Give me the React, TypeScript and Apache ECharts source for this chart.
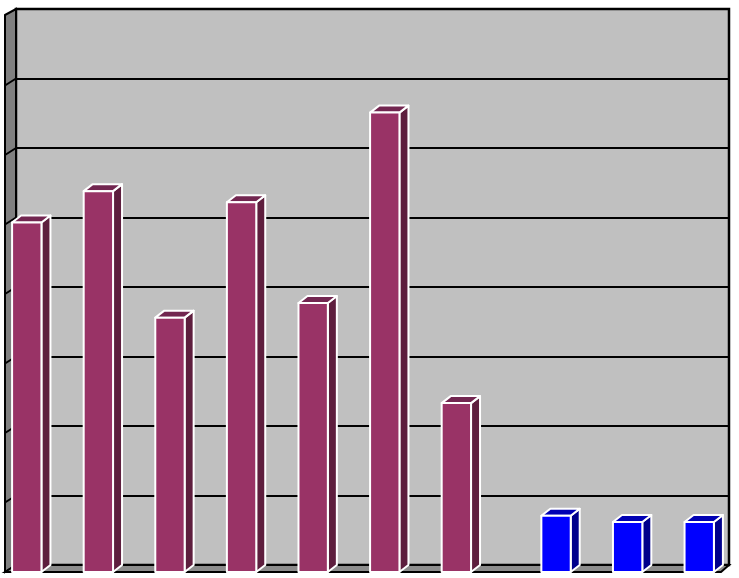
import { useEffect, useRef } from "react";
import * as echarts from "echarts";

// ten categories, no labels shown on the chart
const categories = ["1", "2", "3", "4", "5", "6", "7", "8", "9", "10"];
const maroonValues = [50.3, 54.8, 36.6, 53.2, 38.7, 66.1, 24.3, null, null, null];
const blueValues = [null, null, null, null, null, null, null, 8.1, 7.2, 7.2];
const yTicks = [0, 10, 20, 30, 40, 50, 60, 70, 80];

const W = 739;
const H = 578;
// back wall and front plane of the 3D box
const back = { left: 16, right: 729, top: 9, bottom: 565 };
const front = { left: 5, right: 721, top: 16, bottom: 572 };
const depth = { dx: 9, dy: 7 };

function bar3d(offset: number, faceColor: string, sideColor: string, topColor: string) {
  return (params: any, api: any) => {
    const v = api.value(1);
    if (v == null || isNaN(v)) return null;
    const basePt = api.coord([api.value(0), 0]);
    const topPt = api.coord([api.value(0), v]);
    const cw = api.size([1, 0])[0];
    const bw = cw * 0.41;
    const cx = basePt[0] + offset * cw;
    const x0 = cx - bw / 2;
    const x1 = cx + bw / 2;
    const y0 = topPt[1];
    const y1 = basePt[1];
    const { dx, dy } = depth;
    const stroke = { stroke: "#ffffff", lineWidth: 2, lineJoin: "round" };
    return {
      type: "group",
      children: [
        {
          type: "polygon",
          shape: { points: [[x1, y0], [x1 + dx, y0 - dy], [x1 + dx, y1 - dy], [x1, y1]] },
          style: { fill: sideColor, ...stroke },
        },
        {
          type: "polygon",
          shape: { points: [[x0, y0], [x0 + dx, y0 - dy], [x1 + dx, y0 - dy], [x1, y0]] },
          style: { fill: topColor, ...stroke },
        },
        {
          type: "rect",
          shape: { x: x0, y: y0, width: bw, height: y1 - y0 },
          style: { fill: faceColor, ...stroke },
        },
      ],
    };
  };
}

export default function App(): JSX.Element {
  const chartRef = useRef(null);
  useEffect(() => {
    const chartDom = chartRef.current;
    const myChart = echarts.init(chartDom, null, { renderer: "svg" });

    const step = (back.bottom - back.top) / (yTicks.length - 1);
    const sideTicks = yTicks.slice(1, -1).map((_, i) => {
      const y = back.bottom - (i + 1) * step;
      return {
        type: "line",
        z: 1,
        shape: { x1: back.left, y1: y, x2: front.left, y2: y + (front.bottom - back.bottom) },
        style: { stroke: "#000", lineWidth: 2 },
      };
    });

    const option = {
      animation: false,
      grid: [
        {
          left: back.left,
          top: back.top,
          width: back.right - back.left,
          height: back.bottom - back.top,
          show: true,
          backgroundColor: "#C0C0C0",
          borderColor: "#000",
          borderWidth: 2.5,
        },
        {
          left: front.left,
          top: front.top,
          width: front.right - front.left,
          height: front.bottom - front.top,
        },
      ],
      xAxis: [
        { type: "category", gridIndex: 0, data: categories, show: false },
        { type: "category", gridIndex: 1, data: categories, show: false },
      ],
      yAxis: [
        {
          type: "value",
          gridIndex: 0,
          min: 0,
          max: 80,
          interval: 10,
          axisLine: { show: false },
          axisTick: { show: false },
          axisLabel: { show: false },
          splitLine: { lineStyle: { color: "#000", width: 2.2 } },
        },
        { type: "value", gridIndex: 1, min: 0, max: 80, interval: 10, show: false, splitLine: { show: false } },
      ],
      graphic: [
        {
          type: "polygon",
          z: 1,
          shape: {
            points: [
              [front.left, front.top - 1],
              [back.left, back.top],
              [back.left, back.bottom],
              [front.left, front.bottom],
            ],
          },
          style: { fill: "#808080", stroke: "#000", lineWidth: 2 },
        },
        ...sideTicks,
        {
          type: "polygon",
          z: 1,
          shape: {
            points: [
              [front.left, front.bottom],
              [back.left, back.bottom],
              [back.right, back.bottom],
              [front.right, front.bottom],
            ],
          },
          style: { fill: "#8C8C8C", stroke: "#000", lineWidth: 2 },
        },
      ],
      series: [
        {
          type: "custom",
          xAxisIndex: 1,
          yAxisIndex: 1,
          z: 5,
          renderItem: bar3d(-0.196, "#993366", "#5E1E3E", "#722650"),
          data: maroonValues.map((v, i) => [i, v]).filter((d) => d[1] != null),
        },
        {
          type: "custom",
          xAxisIndex: 1,
          yAxisIndex: 1,
          z: 5,
          renderItem: bar3d(0.196, "#0000FF", "#00008C", "#0000B4"),
          data: blueValues.map((v, i) => [i, v]).filter((d) => d[1] != null),
        },
      ],
    };
    myChart.setOption(option);
    return () => {
      myChart.dispose();
    };
  }, []);

  return (
    <div
      ref={chartRef}
      style={{ position: "fixed", left: 0, top: 0, width: W, height: H, background: "#fff" }}
    ></div>
  );
}
